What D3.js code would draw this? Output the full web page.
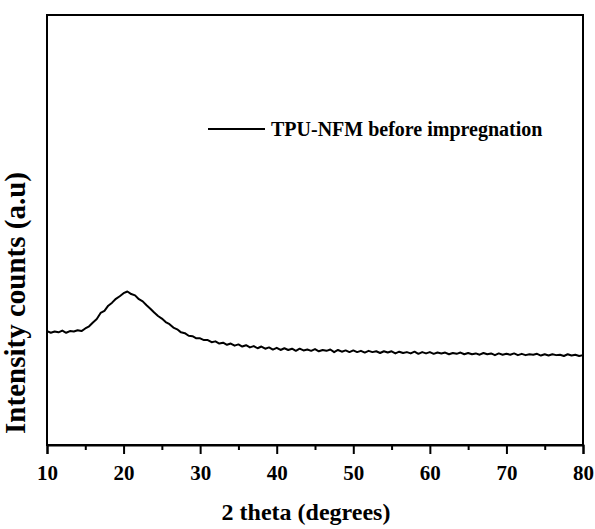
<!DOCTYPE html>
<html>
<head>
<meta charset="utf-8">
<script src="https://cdn.jsdelivr.net/npm/d3@7"></script>
<style>
  body { margin: 0; background: #fff; }
  text { font-family: "Liberation Serif", "Times New Roman", serif; font-weight: bold; }
</style>
</head>
<body>
<div id="chart"></div>
<script>
// 2 theta from 10 to 80, every 0.5 degree
const thetaStart = 10, thetaStep = 0.5;
const intensity = [
  265, 261, 264, 262, 266, 261, 265, 264, 267, 265,
  271, 276, 285, 293, 307, 312, 324, 331, 340, 346,
  353, 357, 351, 348, 339, 334, 325, 317, 308, 300,
  294, 286, 281, 273, 269, 262, 260, 254, 253, 248,
  248, 244, 244, 239, 241, 236, 238, 233, 236, 231,
  234, 229, 232, 227, 230, 225, 229, 224, 227, 222,
  226, 221, 225, 221, 224, 219, 224, 220, 222, 219,
  223, 218, 221, 219, 222, 216, 221, 217, 220, 216,
  220, 216, 219, 215, 219, 216, 218, 214, 218, 215,
  218, 213, 217, 214, 216, 213, 217, 212, 216, 213,
  216, 212, 215, 213, 215, 211, 214, 212, 215, 211,
  214, 211, 213, 210, 214, 211, 213, 209, 213, 210,
  212, 210, 213, 209, 212, 209, 211, 210, 212, 208,
  211, 208, 211, 209, 210, 207, 211, 208, 210, 207,
  209
];
const xTicks = [10, 20, 30, 40, 50, 60, 70, 80];
const xMinorTicks = [15, 25, 35, 45, 55, 65, 75];
const seriesName = "TPU-NFM before impregnation";

const data = intensity.map((v, i) => ({ x: thetaStart + i * thetaStep, y: v }));

const width = 595, height = 529;
const margin = { top: 15, right: 12, bottom: 84, left: 47 };

const svg = d3.select("#chart").append("svg")
  .attr("width", width)
  .attr("height", height);

const x = d3.scaleLinear().domain([10, 80]).range([margin.left, width - margin.right]);
const y = d3.scaleLinear().domain([0, 1000]).range([height - margin.bottom, margin.top]);

// frame
svg.append("rect")
  .attr("x", margin.left).attr("y", margin.top)
  .attr("width", width - margin.left - margin.right)
  .attr("height", height - margin.top - margin.bottom)
  .attr("fill", "none").attr("stroke", "#000").attr("stroke-width", 2);

// minor ticks
svg.append("g")
  .attr("transform", `translate(0,${height - margin.bottom})`)
  .call(d3.axisBottom(x).tickValues(xMinorTicks).tickSize(5).tickFormat(""))
  .call(g => g.select(".domain").remove())
  .selectAll("line").attr("stroke-width", 2);

// major ticks
const xAxis = svg.append("g")
  .attr("transform", `translate(0,${height - margin.bottom})`)
  .call(d3.axisBottom(x).tickValues(xTicks).tickSize(9).tickPadding(11));
xAxis.select(".domain").attr("stroke-width", 2);
xAxis.selectAll("line").attr("stroke-width", 2);
xAxis.selectAll("text")
  .attr("font-size", 21)
  .attr("font-family", "Liberation Serif, Times New Roman, serif")
  .attr("font-weight", "bold")
  .attr("fill", "#000");

// line
svg.append("path")
  .datum(data)
  .attr("fill", "none")
  .attr("stroke", "#000")
  .attr("stroke-width", 2)
  .attr("stroke-linejoin", "round")
  .attr("d", d3.line().x(d => x(d.x)).y(d => y(d.y)));

// legend
svg.append("line")
  .attr("x1", 208).attr("x2", 265)
  .attr("y1", 129).attr("y2", 129)
  .attr("stroke", "#000").attr("stroke-width", 2);
svg.append("text")
  .attr("x", 271).attr("y", 136)
  .attr("font-size", 20)
  .text(seriesName);

// axis titles
svg.append("text")
  .attr("x", 306).attr("y", 520)
  .attr("text-anchor", "middle")
  .attr("font-size", 24)
  .text("2 theta (degrees)");

svg.append("text")
  .attr("transform", "translate(25,303) rotate(-90)")
  .attr("text-anchor", "middle")
  .attr("font-size", 29)
  .text("Intensity counts (a.u)");
</script>
</body>
</html>
